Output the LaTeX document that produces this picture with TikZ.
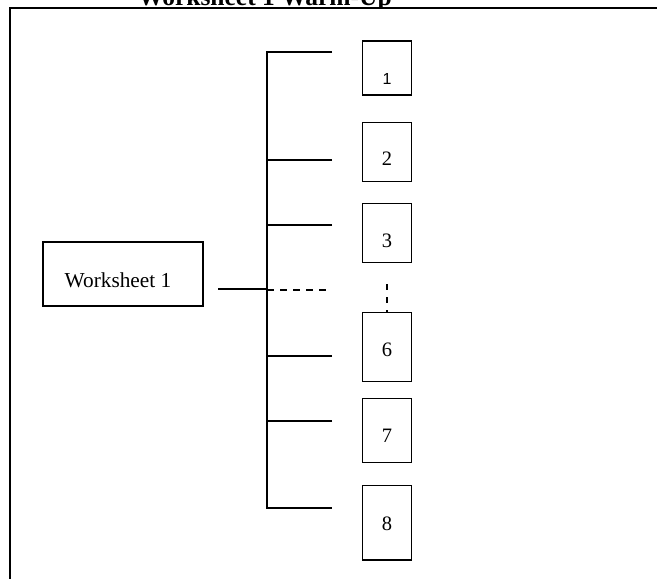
\documentclass[tikz,border=0pt]{standalone}
\usepackage{fontspec}
\setmainfont{Liberation Serif}
\newfontfamily\onefont{Liberation Sans}
\begin{document}
\begin{tikzpicture}[x=1pt,y=-1pt,line width=1.4pt,
  numbox/.style={draw,minimum width=48.6pt,inner sep=0pt},
  lbl/.style={inner sep=0pt,font=\fontsize{20.5}{24}\selectfont},
  dashline/.style={dash pattern=on 7pt off 6pt}]
\useasboundingbox (0,0) rectangle (657,579);
% title (mostly cut off at the top, as in the reference)
\begin{scope}
\clip (0,0) rectangle (657,7);
\node[anchor=base,inner sep=0pt,font=\fontsize{25.5}{30}\selectfont\bfseries] (title) at (265,5.5) {Worksheet 1 Warm-Up};
\end{scope}
% frame
\coordinate (fr1) at (660,8);
\coordinate (fr2) at (10,8);
\coordinate (fr3) at (10,582);
\draw (fr1) -- (fr2) -- (fr3);
% worksheet box
\node[draw,minimum width=160pt,minimum height=64pt,inner sep=0pt] (ws) at (123,274) {};
\node[lbl,font=\fontsize{21.3}{25}\selectfont] (wst) at (118,280) {Worksheet 1};
% number boxes
\node[numbox,minimum height=54pt] (b1) at (387,68) {};
\node[numbox,minimum height=59.4pt] (b2) at (387,152) {};
\node[numbox,minimum height=59pt] (b3) at (387,232.8) {};
\node[numbox,minimum height=69.4pt] (b6) at (387,347) {};
\node[numbox,minimum height=64pt] (b7) at (387,430.7) {};
\node[numbox,minimum height=74.3pt] (b8) at (387,522.8) {};
\node[inner sep=0pt,font=\fontsize{16}{19}\selectfont\onefont] (t1) at (387,79) {1};
\node[lbl] (t2) at (387,159) {2};
\node[lbl] (t3) at (387,241) {3};
\node[lbl] (t6) at (387,350) {6};
\node[lbl] (t7) at (387,436) {7};
\node[lbl] (t8) at (387,524) {8};
% tree connectors
\coordinate (top) at (267,52);
\coordinate (bot) at (267,508);
\coordinate (e1) at (332,52);
\coordinate (e2) at (332,160);
\coordinate (e3) at (332,225);
\coordinate (e6) at (332,356);
\coordinate (e7) at (332,421);
\coordinate (e8) at (332,508);
\coordinate (ed) at (331,290);
\coordinate (s1) at (218,289);
\draw (e1) -- (top) -- (bot) -- (e8);
\draw (s1) -- (s1 -| top);
\draw (e2) -- (e2 -| top);
\draw (e3) -- (e3 -| top);
\draw (e6) -- (e6 -| top);
\draw (e7) -- (e7 -| top);
\draw[dashline] (ed -| top) -- (ed);
\coordinate (vd1) at (387,284);
\draw[dash pattern=on 6pt off 7pt] (vd1) -- (b6.north);
\end{tikzpicture}
\end{document}
